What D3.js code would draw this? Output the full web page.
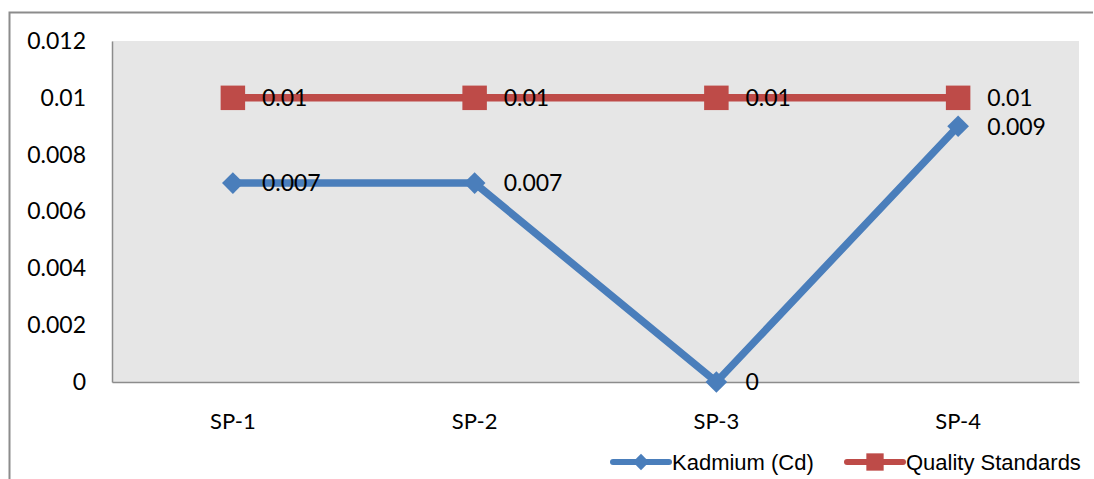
<!DOCTYPE html>
<html>
<head>
<meta charset="utf-8">
<script src="https://cdn.jsdelivr.net/npm/d3@7"></script>
<style>
  html, body { margin: 0; padding: 0; background: #fff; }
  svg { display: block; }
</style>
</head>
<body>
<svg id="chart" width="1094" height="479"></svg>
<script>
// Sampling points and measured values
const categories = ["SP-1", "SP-2", "SP-3", "SP-4"];
const cadmium = [0.007, 0.007, 0, 0.009];
const standard = [0.01, 0.01, 0.01, 0.01];
const yTicks = [0, 0.002, 0.004, 0.006, 0.008, 0.01, 0.012];
const seriesNames = ["Kadmium (Cd)", "Quality Standards"];

const svg = d3.select("#chart");
const W = 1094, H = 479;
const plot = { left: 112, right: 1079, top: 41, bottom: 382 };
const blue = "#4a7ebb", red = "#be4b48";
const numFont = "Lato, 'Open Sans', sans-serif";
const legFont = "'Liberation Sans', Arial, sans-serif";

// outer chart frame (top and left edges)
svg.append("path")
  .attr("d", `M9.5,${H} V12.5 H1093`)
  .attr("fill", "none").attr("stroke", "#8c8c8c").attr("stroke-width", 2);

const x = d3.scaleBand().domain(categories).range([plot.left, plot.right]);
const y = d3.scaleLinear().domain([0, 0.012]).range([plot.bottom, plot.top]);

// plot background
svg.append("rect")
  .attr("x", plot.left).attr("y", plot.top)
  .attr("width", plot.right - plot.left).attr("height", plot.bottom - plot.top)
  .attr("fill", "#e6e6e6");

// axes
const yAxis = svg.append("g")
  .attr("transform", `translate(${plot.left},0)`)
  .call(d3.axisLeft(y).tickValues(yTicks).tickSize(0).tickPadding(26)
    .tickFormat(d => d === 0 ? "0" : String(+d.toFixed(3))));
yAxis.select(".domain").attr("stroke", "#8c8c8c").attr("stroke-width", 1.5);
yAxis.selectAll("text").attr("font-family", numFont).attr("font-size", 23).attr("fill", "#000");

const xAxis = svg.append("g")
  .attr("transform", `translate(0,${plot.bottom})`)
  .call(d3.axisBottom(x).tickSize(0).tickPadding(31));
xAxis.select(".domain").attr("stroke", "#8c8c8c").attr("stroke-width", 1.5);
xAxis.selectAll("text").attr("font-family", numFont).attr("font-size", 22).attr("fill", "#000");

const cx = d => x(d) + x.bandwidth() / 2;
const line = d3.line().x((d, i) => cx(categories[i])).y(d => y(d));

const diamond = d3.symbol().type(d3.symbolDiamond2).size(300);
const square = d3.symbol().type(d3.symbolSquare).size(600);

function drawSeries(vals, color, sym) {
  svg.append("path").datum(vals)
    .attr("d", line).attr("fill", "none")
    .attr("stroke", color).attr("stroke-width", 7.5).attr("stroke-linejoin", "miter");
  svg.selectAll(null).data(vals).enter().append("path")
    .attr("d", sym)
    .attr("transform", (d, i) => `translate(${cx(categories[i])},${y(d)})`)
    .attr("fill", color);
}
drawSeries(cadmium, blue, diamond);
drawSeries(standard, red, square);

// data labels
function labels(vals) {
  svg.selectAll(null).data(vals).enter().append("text")
    .attr("x", (d, i) => cx(categories[i]) + 29)
    .attr("y", d => y(d))
    .attr("dy", "0.36em")
    .attr("font-family", numFont).attr("font-size", 23).attr("fill", "#000")
    .text(d => String(d));
}
labels(cadmium);
labels(standard);

// legend
const legend = [
  { name: seriesNames[0], color: blue, sym: d3.symbol().type(d3.symbolDiamond2).size(170), x: 613 },
  { name: seriesNames[1], color: red, sym: d3.symbol().type(d3.symbolSquare).size(300), x: 847 }
];
const ly = 462;
legend.forEach(l => {
  const g = svg.append("g");
  g.append("line").attr("x1", l.x).attr("x2", l.x + 56).attr("y1", ly).attr("y2", ly)
    .attr("stroke", l.color).attr("stroke-width", 6).attr("stroke-linecap", "round");
  g.append("path").attr("d", l.sym())
    .attr("transform", `translate(${l.x + 28},${ly})`).attr("fill", l.color);
  g.append("text").attr("x", l.x + 59).attr("y", ly).attr("dy", "0.35em")
    .attr("font-family", legFont).attr("font-size", 22).attr("fill", "#000")
    .text(l.name);
});
</script>
</body>
</html>
